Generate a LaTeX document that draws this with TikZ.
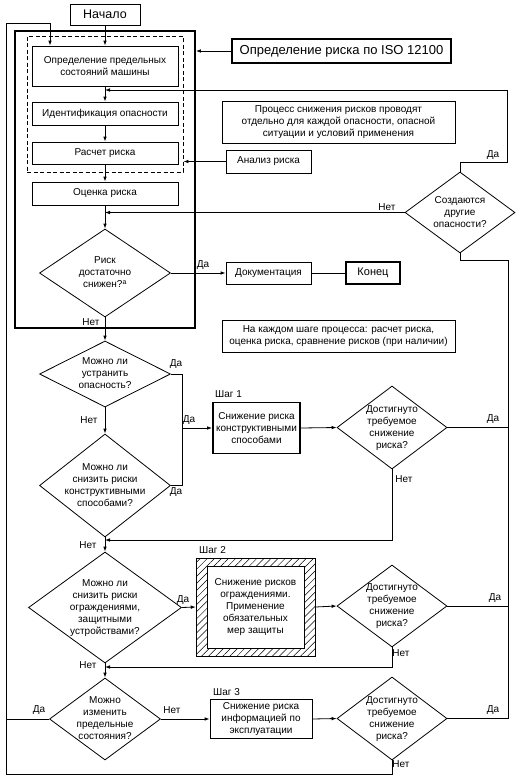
\documentclass[tikz,border=0pt]{standalone}
\usepackage{fontspec}
\setmainfont{Liberation Sans}
\usetikzlibrary{shapes.geometric,arrows.meta,patterns.meta}
\newcommand{\dtxt}[1]{\smash{\makebox[0pt]{\raisebox{-3pt}{\begin{tabular}{@{}c@{}}#1\end{tabular}}}}}
\begin{document}
\begin{tikzpicture}[x=1pt,y=-1pt,
  base/.style={font=\fontsize{10}{12}\selectfont},
  box/.style={draw, line width=0.8pt, inner sep=0pt, align=center, base},
  tbox/.style={box, line width=1.8pt},
  dia/.style={draw, diamond, line width=0.8pt, inner sep=0pt, base},
  arr/.style={line width=0.8pt, -{Latex[length=5pt,width=3.6pt]}},
  ln/.style={line width=0.8pt},
  lbl/.style={base, inner sep=0pt},
  stp/.style={base, inner sep=0pt, anchor=west}]
\useasboundingbox (0,0) rectangle (521,780);
% frames
\node[draw, line width=1.8pt, minimum width=180, minimum height=297, inner sep=0pt] (frame) at (105,179.5) {};
\node[draw, line width=0.9pt, dash pattern=on 4pt off 2.5pt, minimum width=156, minimum height=136, inner sep=0pt] (dbox) at (105,104) {};
% boxes
\node[box, minimum width=70, minimum height=21, font=\fontsize{12.5}{14}\selectfont] (start) at (105,14.5) {Начало};
\node[box, minimum width=146, minimum height=40] (b1) at (105,66) {Определение предельных\\состояний машины};
\node[box, minimum width=146, minimum height=23] (b2) at (105,113.5) {Идентификация опасности};
\node[box, minimum width=146, minimum height=22] (b3) at (105,153) {Расчет риска};
\node[box, minimum width=146, minimum height=23] (b4) at (105,193.5) {Оценка риска};
\node[tbox, minimum width=219, minimum height=24, font=\fontsize{13}{15}\selectfont] (iso) at (341.5,51) {Определение риска по ISO 12100};
\node[box, minimum width=233, minimum height=42] (proc) at (338.5,122) {Процесс снижения рисков проводят\\отдельно для каждой опасности, опасной\\ситуации и условий применения};
\node[box, minimum width=85, minimum height=23] (anal) at (268.5,161.5) {Анализ риска};
\node[box, minimum width=85, minimum height=22] (doc) at (268.5,273) {Документация};
\node[tbox, minimum width=54, minimum height=22, font=\fontsize{11}{13}\selectfont] (end) at (373,273) {Конец};
\node[box, minimum width=233, minimum height=32] (note) at (338.5,336) {На каждом шаге процесса: расчет риска,\\оценка риска, сравнение рисков (при наличии)};
\node[tbox, minimum width=87, minimum height=51] (s1) at (256.5,428) {Снижение риска\\конструктивными\\способами};
\node[draw, line width=0.8pt, minimum width=119, minimum height=98, inner sep=0pt, pattern={Lines[angle=45,distance=5pt,line width=0.5pt]}] (s2o) at (255.5,607) {};
\node[box, fill=white, minimum width=97, minimum height=82] (s2) at (255.5,607) {Снижение рисков\\ограждениями.\\Применение\\обязательных\\мер защиты};
\node[box, minimum width=102, minimum height=39] (s3) at (261,719) {Снижение риска\\информацией по\\эксплуатации};
% diamonds
\node[dia, minimum width=110, minimum height=81] (dq0) at (460,212.5) {\dtxt{Создаются\\другие\\опасности?}};
\node[dia, minimum width=131, minimum height=88] (d1) at (105,273) {\dtxt{Риск\\достаточно\\снижен?\textsuperscript{a}}};
\node[dia, minimum width=131, minimum height=66] (d2) at (105,374) {\dtxt{Можно ли\\устранить\\опасность?}};
\node[dia, minimum width=131, minimum height=103] (d3) at (105,485.5) {\dtxt{Можно ли\\снизить риски\\конструктивными\\способами?}};
\node[dia, minimum width=153, minimum height=111] (d4) at (105,607.5) {\dtxt{Можно ли\\снизить риски\\ограждениями,\\защитными\\устройствами?}};
\node[dia, minimum width=111, minimum height=82] (d5) at (105,719) {\dtxt{Можно\\изменить\\предельные\\состояния?}};
\node[dia, minimum width=110, minimum height=83] (a1) at (392,427.5) {\dtxt{Достигнуто\\требуемое\\снижение\\риска?}};
\node[dia, minimum width=110, minimum height=82] (a2) at (392,606) {\dtxt{Достигнуто\\требуемое\\снижение\\риска?}};
\node[dia, minimum width=110, minimum height=83] (a3) at (392,718.5) {\dtxt{Достигнуто\\требуемое\\снижение\\риска?}};
% coordinates
\coordinate (bl) at (6,774);
\coordinate (tl) at (6,23);
\coordinate (tr) at (50,23);
\coordinate (rv) at (508,260);
\coordinate (rt) at (507,90);
\coordinate (yj) at (182,428);
\coordinate (m1) at (105,540);
\coordinate (m2) at (105,667);
% connectors
\draw[arr] (start.south) -- (b1.north);
\draw[arr] (b1.south) -- (b2.north);
\draw[arr] (b2.south) -- (b3.north);
\draw[arr] (b3.south) -- (b4.north);
\draw[arr] (b4.south) -- (d1.north);
\draw[arr] (iso.west) -- (iso.west -| frame.east);
\draw[arr] (anal.west) -- (anal.west -| dbox.east);
\draw[arr] (dq0.north) -- ++(0,-9) -| (rt) -- (rt -| b1.south);
\draw[arr] (dq0.west) -- (dq0.west -| b4.south);
\draw[ln] (a3.east) -| (rv) -| (dq0.south);
\draw[ln] (a1.east) -- (a1.east -| rv);
\draw[ln] (a2.east) -- (a2.east -| rv);
\draw[arr] (d1.east) -- (doc.west);
\draw[ln] (doc.east) -- (end.west);
\draw[arr] (d1.south) -- (d2.north);
\draw[arr] (d2.south) -- (d3.north);
\draw[ln] (d2.east) -| (yj);
\draw[ln] (d3.east) -| (yj);
\draw[arr] (yj) -- (s1.west);
\draw[arr] (s1.east) -- (a1.west);
\draw[arr] (a1.south) |- (m1);
\draw[arr] (d3.south) -- (d4.north);
\draw[arr] (d4.east) -- (s2o.west);
\draw[arr] (s2o.east) -- (a2.west);
\draw[arr] (a2.south) |- (m2);
\draw[arr] (d4.south) -- (d5.north);
\draw[arr] (d5.east) -- (s3.west);
\draw[arr] (s3.east) -- (a3.west);
\draw[arr] (a3.south) |- (bl) -- (tl) -- (tr) -- (tr |- b1.north);
\draw[ln] (d5.west) -- (d5.west -| bl);
% labels
\node[lbl] (l1) at (493,155) {Да};
\node[lbl] (l2) at (387,207) {Нет};
\node[lbl] (l3) at (203,265) {Да};
\node[lbl] (l4) at (91,322) {Нет};
\node[lbl] (l5) at (176,364) {Да};
\node[lbl] (l6) at (89,420) {Нет};
\node[lbl] (l7) at (189,420) {Да};
\node[lbl] (l8) at (176,492) {Да};
\node[stp] (st1) at (215,394) {Шаг 1};
\node[lbl] (l9) at (493,419) {Да};
\node[lbl] (l10) at (404,479) {Нет};
\node[lbl] (l11) at (88,545) {Нет};
\node[stp] (st2) at (199,550) {Шаг 2};
\node[lbl] (l12) at (183,600) {Да};
\node[lbl] (l13) at (495,598) {Да};
\node[lbl] (l14) at (401,653) {Нет};
\node[lbl] (l15) at (88,665) {Нет};
\node[lbl] (l16) at (39,710) {Да};
\node[lbl] (l17) at (172,710) {Нет};
\node[stp] (st3) at (213,692) {Шаг 3};
\node[lbl] (l18) at (493,710) {Да};
\node[lbl] (l19) at (401,764) {Нет};
\end{tikzpicture}
\end{document}
